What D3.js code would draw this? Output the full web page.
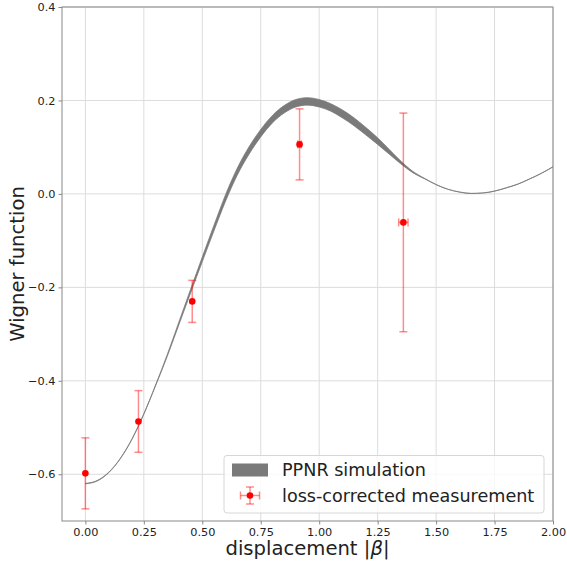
<!DOCTYPE html>
<html>
<head>
<meta charset="utf-8">
<script src="https://cdn.jsdelivr.net/npm/d3@7"></script>
<style>
  body { margin: 0; background: #fff; }
  svg { font-family: "DejaVu Sans", sans-serif; }
</style>
</head>
<body>
<svg id="chart" width="567" height="562"></svg>
<script>
// simulation band: centre and half thickness
const simX = [0, 0.05, 0.1, 0.15, 0.2, 0.25, 0.3, 0.35, 0.4, 0.45, 0.5, 0.55, 0.6, 0.65, 0.7,
  0.75, 0.8, 0.85, 0.9, 0.95, 1.0, 1.05, 1.1, 1.15, 1.2, 1.25, 1.3, 1.35, 1.4, 1.45, 1.5,
  1.55, 1.6, 1.65, 1.7, 1.75, 1.8, 1.85, 1.9, 1.95, 2.0];
const simMid = [-0.620, -0.614, -0.596, -0.566, -0.524, -0.471, -0.410, -0.346, -0.277, -0.208,
  -0.140, -0.073, -0.008, 0.048, 0.093, 0.130, 0.160, 0.181, 0.194, 0.198, 0.194, 0.185,
  0.171, 0.154, 0.134, 0.113, 0.090, 0.067, 0.047, 0.033, 0.020, 0.010, 0.004, 0.001,
  0.002, 0.006, 0.013, 0.021, 0.032, 0.044, 0.058];
const simHalf = [0.0005, 0.0005, 0.0005, 0.0005, 0.0005, 0.0005, 0.001, 0.002, 0.003, 0.004, 0.005,
  0.006, 0.007, 0.0075, 0.008, 0.008, 0.008, 0.008, 0.008, 0.008, 0.008, 0.008, 0.0085,
  0.0085, 0.008, 0.007, 0.005, 0.003, 0.0015, 0.0005, 0.0002, 0.0002, 0.0002, 0.0002, 0.0002,
  0.0002, 0.0002, 0.0002, 0.0002, 0.0002, 0.0002];

// measurements
const measX = [0.0, 0.227, 0.457, 0.916, 1.36];
const measY = [-0.598, -0.487, -0.230, 0.106, -0.061];
const measYErr = [0.076, 0.066, 0.045, 0.076, 0.234];
const measXErr = [0, 0, 0, 0.008, 0.02];

const xTicks = [0, 0.25, 0.5, 0.75, 1.0, 1.25, 1.5, 1.75, 2.0];
const yTicks = [-0.6, -0.4, -0.2, 0.0, 0.2, 0.4];
const legendLabels = ["PPNR simulation", "loss-corrected measurement"];

const svg = d3.select("#chart");
const plotL = 62, plotR = 553, plotT = 7, plotB = 521;

const x = d3.scaleLinear().domain([-0.1, 2.0]).range([plotL, plotR]);
const y = d3.scaleLinear().domain([-0.7, 0.4]).range([plotB, plotT]);

// grid
svg.append("g").selectAll("line").data(xTicks).join("line")
  .attr("x1", d => x(d)).attr("x2", d => x(d))
  .attr("y1", plotT).attr("y2", plotB)
  .attr("stroke", "#dcdcdc").attr("stroke-width", 1);
svg.append("g").selectAll("line").data(yTicks).join("line")
  .attr("x1", plotL).attr("x2", plotR)
  .attr("y1", d => y(d)).attr("y2", d => y(d))
  .attr("stroke", "#dcdcdc").attr("stroke-width", 1);

// simulation band
const band = simX.map((v, i) => ({ x: v, lo: simMid[i] - simHalf[i], hi: simMid[i] + simHalf[i] }));
const area = d3.area()
  .x(d => x(d.x)).y0(d => y(d.lo)).y1(d => y(d.hi))
  .curve(d3.curveMonotoneX);
svg.append("path").datum(band)
  .attr("d", area)
  .attr("fill", "#7a7a7a").attr("stroke", "#7a7a7a").attr("stroke-width", 0.75);

// error bars
const errColor = "rgba(255,0,0,0.45)";
const meas = measX.map((v, i) => ({ x: v, y: measY[i], ey: measYErr[i], ex: measXErr[i] }));
const eb = svg.append("g");
meas.forEach(d => {
  eb.append("line")
    .attr("x1", x(d.x)).attr("x2", x(d.x))
    .attr("y1", y(d.y - d.ey)).attr("y2", y(d.y + d.ey))
    .attr("stroke", errColor).attr("stroke-width", 1.5);
  [d.y - d.ey, d.y + d.ey].forEach(v => {
    eb.append("line")
      .attr("x1", x(d.x) - 4).attr("x2", x(d.x) + 4)
      .attr("y1", y(v)).attr("y2", y(v))
      .attr("stroke", errColor).attr("stroke-width", 1.5);
  });
  if (d.ex > 0) {
    eb.append("line")
      .attr("x1", x(d.x - d.ex)).attr("x2", x(d.x + d.ex))
      .attr("y1", y(d.y)).attr("y2", y(d.y))
      .attr("stroke", errColor).attr("stroke-width", 1.5);
    [d.x - d.ex, d.x + d.ex].forEach(v => {
      eb.append("line")
        .attr("x1", x(v)).attr("x2", x(v))
        .attr("y1", y(d.y) - 4).attr("y2", y(d.y) + 4)
        .attr("stroke", errColor).attr("stroke-width", 1.5);
    });
  }
});
svg.append("g").selectAll("circle").data(meas).join("circle")
  .attr("cx", d => x(d.x)).attr("cy", d => y(d.y))
  .attr("r", 3.3).attr("fill", "#ff0000");

// axes
const xAxis = svg.append("g").attr("transform", `translate(0,${plotB})`)
  .call(d3.axisBottom(x).tickValues(xTicks).tickFormat(d3.format(".2f")).tickSize(3.5).tickPadding(3));
const yAxis = svg.append("g").attr("transform", `translate(${plotL},0)`)
  .call(d3.axisLeft(y).tickValues(yTicks).tickFormat(d3.format(".1f")).tickSize(3.5).tickPadding(3));
[xAxis, yAxis].forEach(a => {
  a.select(".domain").remove();
  a.selectAll(".tick line").attr("stroke", "#888");
  a.selectAll(".tick text").attr("fill", "#222").style("font-size", "11.3px")
    .style("font-family", "DejaVu Sans");
});

// spines
svg.append("rect")
  .attr("x", plotL).attr("y", plotT).attr("width", plotR - plotL).attr("height", plotB - plotT)
  .attr("fill", "none").attr("stroke", "#888").attr("stroke-width", 1);

// axis labels
const xl = svg.append("text")
  .attr("x", (plotL + plotR) / 2).attr("y", 555)
  .attr("text-anchor", "middle").style("font-size", "19.6px").attr("fill", "#222");
xl.append("tspan").text("displacement |");
xl.append("tspan").style("font-style", "italic").text("β");
xl.append("tspan").text("|");

svg.append("text")
  .attr("transform", `translate(24,${(plotT + plotB) / 2}) rotate(-90)`)
  .attr("text-anchor", "middle").style("font-size", "19.6px").attr("fill", "#222")
  .text("Wigner function");

// legend
const lg = svg.append("g");
lg.append("rect")
  .attr("x", 224).attr("y", 455.5).attr("width", 320).attr("height", 57.5).attr("rx", 3)
  .attr("fill", "rgba(255,255,255,0.8)").attr("stroke", "#d6d6d6").attr("stroke-width", 1);
lg.append("rect")
  .attr("x", 232).attr("y", 463.5).attr("width", 36).attr("height", 13)
  .attr("fill", "#7a7a7a");
const hx = 250, hy = 495.5;
[[hx - 9.5, hy, hx + 9.5, hy], [hx, hy - 8.5, hx, hy + 8.5],
 [hx - 9.5, hy - 4, hx - 9.5, hy + 4], [hx + 9.5, hy - 4, hx + 9.5, hy + 4],
 [hx - 4, hy - 8.5, hx + 4, hy - 8.5], [hx - 4, hy + 8.5, hx + 4, hy + 8.5]].forEach(s => {
  lg.append("line").attr("x1", s[0]).attr("y1", s[1]).attr("x2", s[2]).attr("y2", s[3])
    .attr("stroke", errColor).attr("stroke-width", 1.5);
});
lg.append("circle").attr("cx", hx).attr("cy", hy).attr("r", 3.3).attr("fill", "#ff0000");
lg.selectAll("text.lab").data(legendLabels).join("text")
  .attr("class", "lab")
  .attr("x", 282).attr("y", (d, i) => 470 + i * 25.5)
  .attr("dy", "0.35em").style("font-size", "17.6px").attr("fill", "#222")
  .text(d => d);
</script>
</body>
</html>
